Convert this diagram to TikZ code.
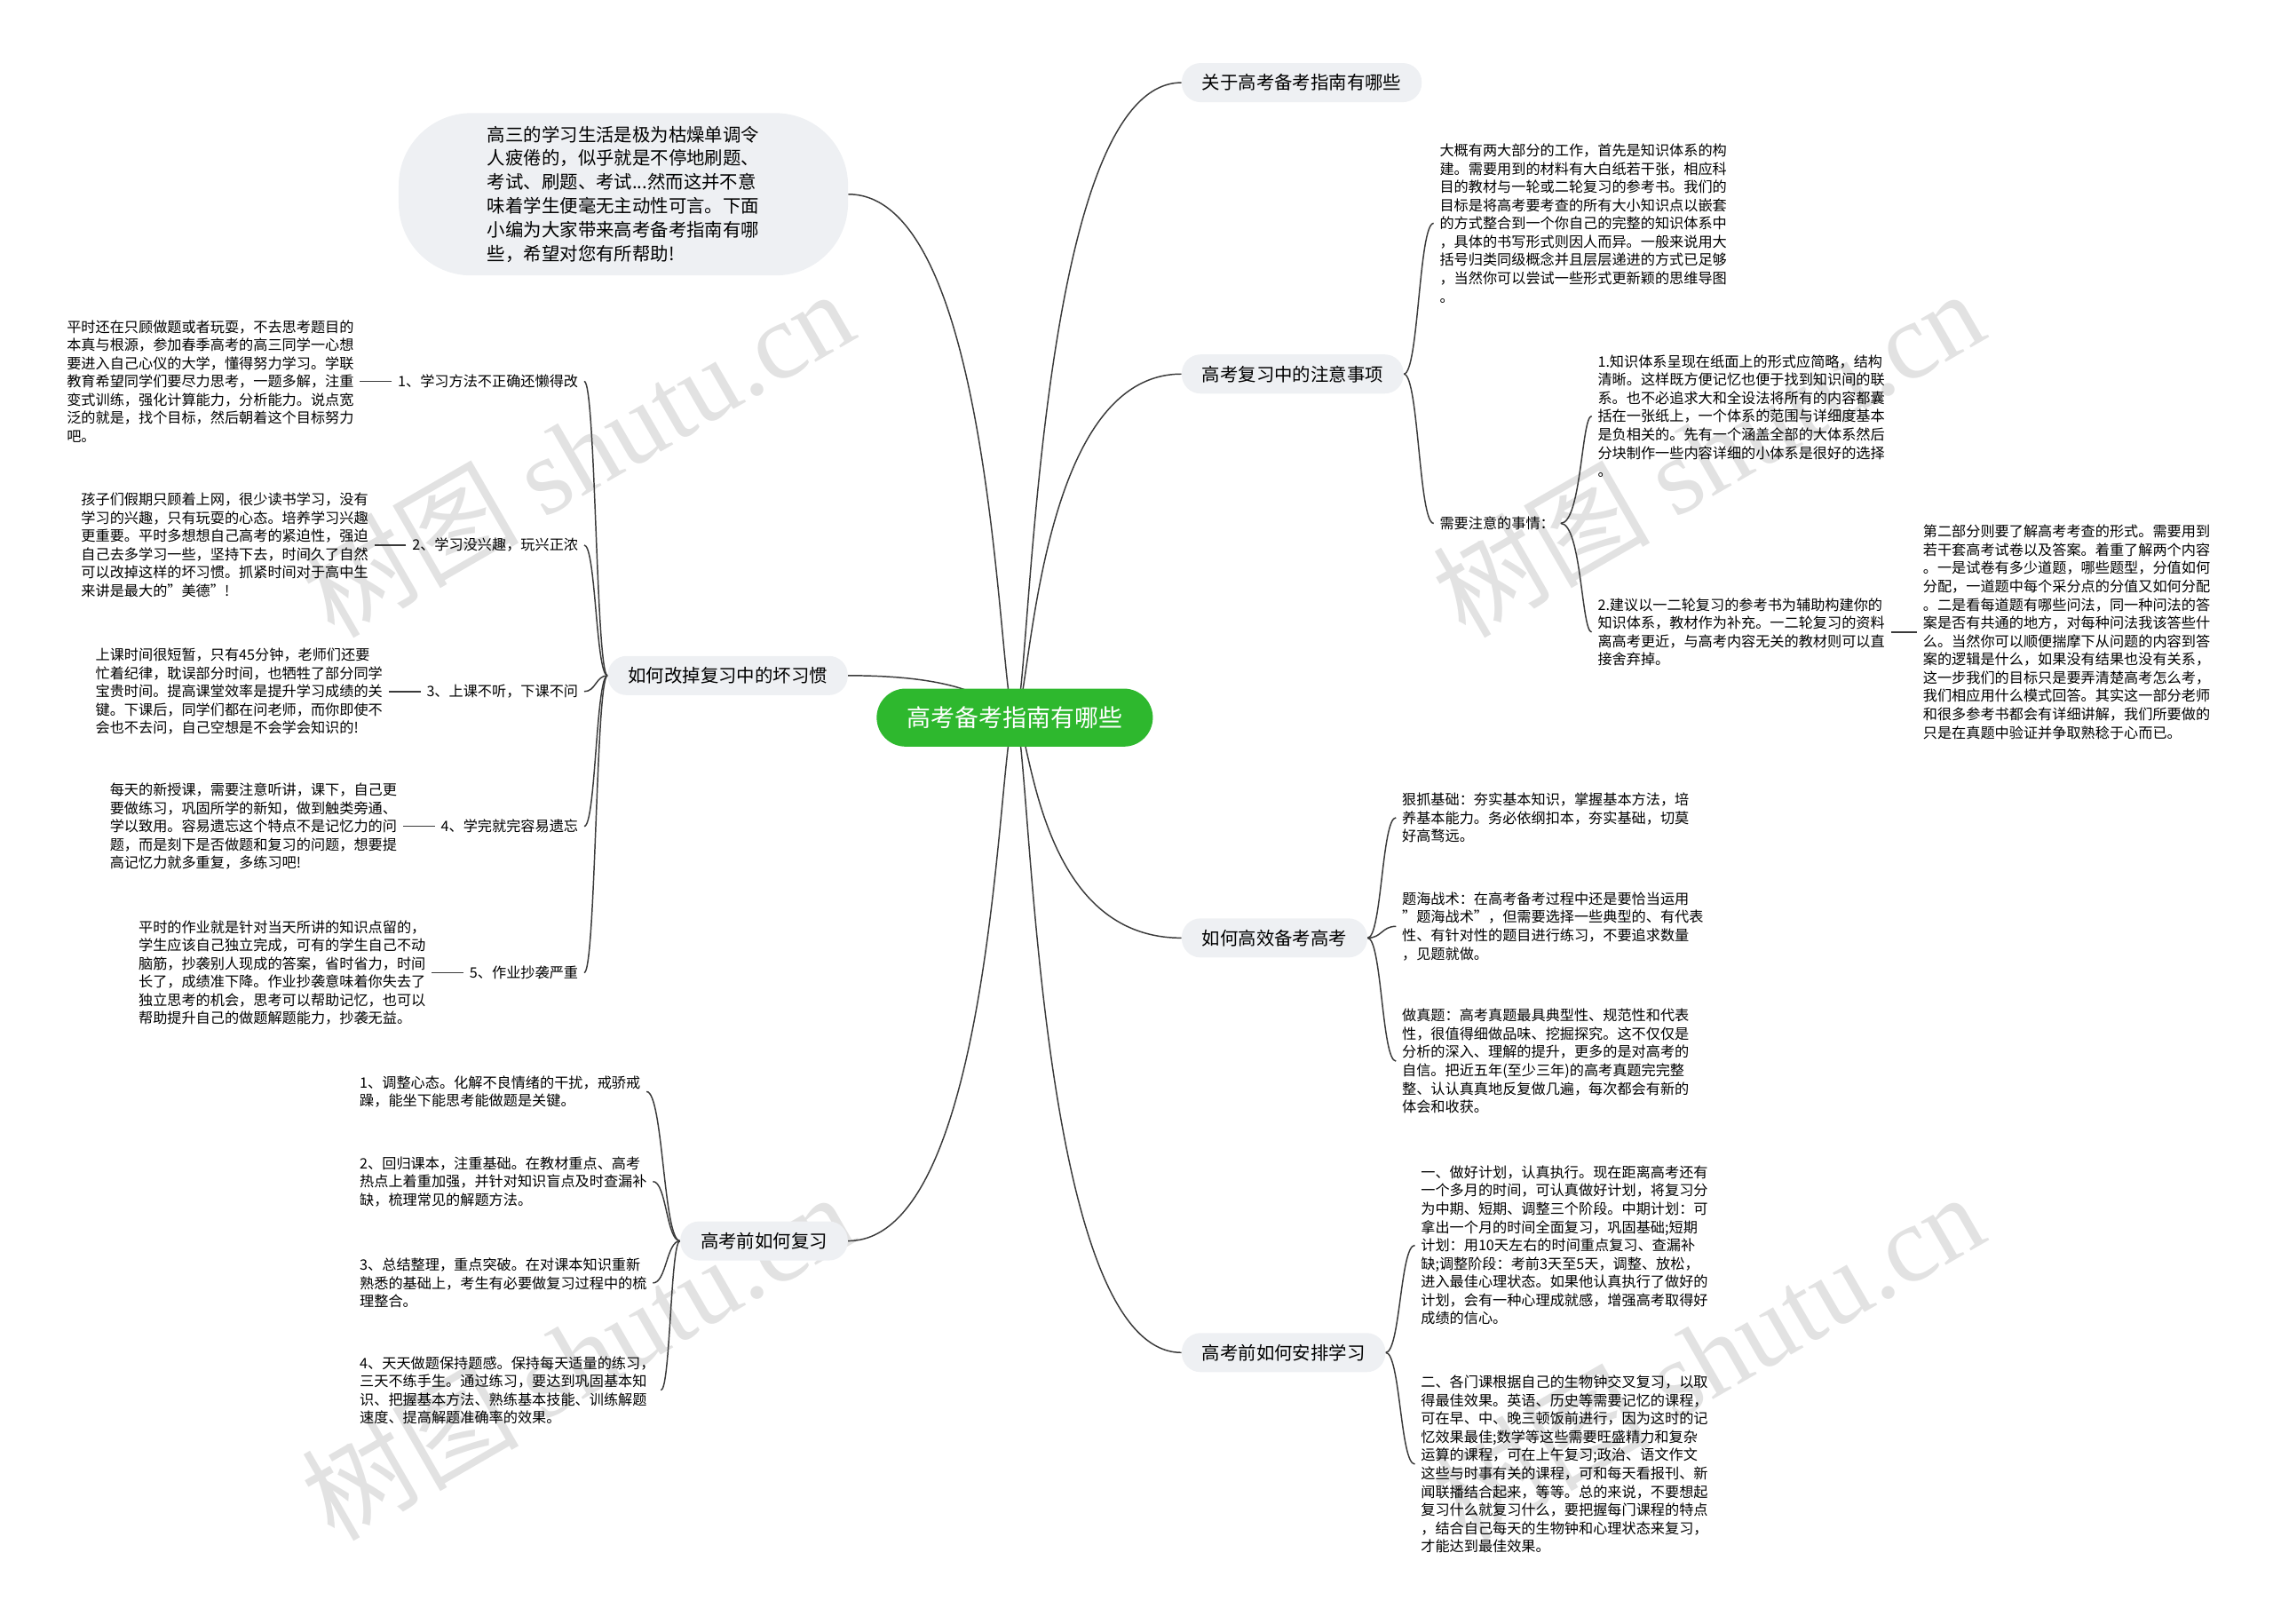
\documentclass[tikz,border=0pt]{standalone}
\usepackage{fontspec}
\setmainfont{Noto Sans CJK SC}
\newfontfamily\wmfont{Liberation Serif}
\usetikzlibrary{positioning, calc}
\definecolor{rootgreen}{HTML}{2EB82E}
\definecolor{topicgray}{HTML}{EEF0F3}
\definecolor{linegray}{HTML}{3A3A3A}
\definecolor{wmgray}{HTML}{E2E2E2}
\pgfdeclarelayer{bg}
\pgfsetlayers{bg,main}

\begin{document}
\begin{tikzpicture}[x=1pt, y=-1pt,
      root/.style={fill=rootgreen, text=white, rounded corners=20pt, minimum height=40pt, inner xsep=21pt, font=\fontsize{16.5}{20}\selectfont},
      topic/.style={fill=topicgray, rounded corners=13pt, minimum height=27pt, inner xsep=14pt, inner ysep=0pt, font=\fontsize{12.5}{15}\selectfont},
      intro/.style={fill=topicgray, rounded corners=50pt, minimum width=310pt, minimum height=112pt, align=left, font=\fontsize{12.5}{16.5}\selectfont},
      txt/.style={inner sep=4pt, align=left, font=\fontsize{9.9}{12.6}\selectfont},
      link/.style={draw=linegray, line width=0.9pt},
      branch/.style={to path={let \p1=(\tikztostart), \p2=(\tikztotarget) in
          .. controls ({\x1+#1*(\x2-\x1)},\y1) and ({\x1+#1*(\x2-\x1)},\y2) .. (\tikztotarget)}},
      branch/.default=0.5,
      wmark/.style={text=wmgray, rotate=30, font=\fontsize{75}{75}\selectfont},
      node distance=22pt
    ]
      \useasboundingbox (0,0) rectangle (1568,1120);

      \node[root] (root) at (700,495) {高考备考指南有哪些};
      \node[intro] (intro) at (430,134) {高三的学习生活是极为枯燥单调令\\人疲倦的，似乎就是不停地刷题、\\考试、刷题、考试...然而这并不意\\味着学生便毫无主动性可言。下面\\小编为大家带来高考备考指南有哪\\些，希望对您有所帮助!};

      \node[topic, anchor=west] (t1) at (815,57) {关于高考备考指南有哪些};
      \node[topic, anchor=west] (t2) at (815,258) {高考复习中的注意事项};
      \node[topic, anchor=west] (t3) at (815,647) {如何高效备考高考};
      \node[topic, anchor=west] (t4) at (815,933) {高考前如何安排学习};
      \node[topic, anchor=east] (t5) at (585,466) {如何改掉复习中的坏习惯};
      \node[topic, anchor=east] (t6) at (585,856) {高考前如何复习};

      % bad habits
      \node[txt, anchor=east] (i1) at (403,263) {1、学习方法不正确还懒得改};
      \node[txt, anchor=east] (i2) at (403,376) {2、学习没兴趣，玩兴正浓};
      \node[txt, anchor=east] (i3) at (403,477) {3、上课不听，下课不问};
      \node[txt, anchor=east] (i4) at (403,570) {4、学完就完容易遗忘};
      \node[txt, anchor=east] (i5) at (403,671) {5、作业抄袭严重};
      \node[txt, left=of i1] (p1) {平时还在只顾做题或者玩耍，不去思考题目的\\本真与根源，参加春季高考的高三同学一心想\\要进入自己心仪的大学，懂得努力学习。学联\\教育希望同学们要尽力思考，一题多解，注重\\变式训练，强化计算能力，分析能力。说点宽\\泛的就是，找个目标，然后朝着这个目标努力\\吧。};
      \node[txt, left=of i2] (p2) {孩子们假期只顾着上网，很少读书学习，没有\\学习的兴趣，只有玩耍的心态。培养学习兴趣\\更重要。平时多想想自己高考的紧迫性，强迫\\自己去多学习一些，坚持下去，时间久了自然\\可以改掉这样的坏习惯。抓紧时间对于高中生\\来讲是最大的"美德"!};
      \node[txt, left=of i3] (p3) {上课时间很短暂，只有45分钟，老师们还要\\忙着纪律，耽误部分时间，也牺牲了部分同学\\宝贵时间。提高课堂效率是提升学习成绩的关\\键。下课后，同学们都在问老师，而你即使不\\会也不去问，自己空想是不会学会知识的!};
      \node[txt, left=of i4] (p4) {每天的新授课，需要注意听讲，课下，自己更\\要做练习，巩固所学的新知，做到触类旁通、\\学以致用。容易遗忘这个特点不是记忆力的问\\题，而是刻下是否做题和复习的问题，想要提\\高记忆力就多重复，多练习吧!};
      \node[txt, left=of i5] (p5) {平时的作业就是针对当天所讲的知识点留的，\\学生应该自己独立完成，可有的学生自己不动\\脑筋，抄袭别人现成的答案，省时省力，时间\\长了，成绩准下降。作业抄袭意味着你失去了\\独立思考的机会，思考可以帮助记忆，也可以\\帮助提升自己的做题解题能力，抄袭无益。};

      % before the exam
      \node[txt, anchor=west] (q1) at (244,753) {1、调整心态。化解不良情绪的干扰，戒骄戒\\躁，能坐下能思考能做题是关键。};
      \node[txt, anchor=west] (q2) at (244,815) {2、回归课本，注重基础。在教材重点、高考\\热点上着重加强，并针对知识盲点及时查漏补\\缺，梳理常见的解题方法。};
      \node[txt, anchor=west] (q3) at (244,885) {3、总结整理，重点突破。在对课本知识重新\\熟悉的基础上，考生有必要做复习过程中的梳\\理整合。};
      \node[txt, anchor=west] (q4) at (244,959) {4、天天做题保持题感。保持每天适量的练习，\\三天不练手生。通过练习，要达到巩固基本知\\识、把握基本方法、熟练基本技能、训练解题\\速度、提高解题准确率的效果。};

      % review notes
      \node[txt, anchor=west] (pd) at (989,154) {大概有两大部分的工作，首先是知识体系的构\\建。需要用到的材料有大白纸若干张，相应科\\目的教材与一轮或二轮复习的参考书。我们的\\目标是将高考要考查的所有大小知识点以嵌套\\的方式整合到一个你自己的完整的知识体系中\\，具体的书写形式则因人而异。一般来说用大\\括号归类同级概念并且层层递进的方式已足够\\，当然你可以尝试一些形式更新颖的思维导图\\。};
      \node[txt, anchor=west] (need) at (989,361) {需要注意的事情：};
      \node[txt, anchor=west] (n1) at (1098,287) {1.知识体系呈现在纸面上的形式应简略，结构\\清晰。这样既方便记忆也便于找到知识间的联\\系。也不必追求大和全设法将所有的内容都囊\\括在一张纸上，一个体系的范围与详细度基本\\是负相关的。先有一个涵盖全部的大体系然后\\分块制作一些内容详细的小体系是很好的选择\\。};
      \node[txt, anchor=west] (n2) at (1098,436) {2.建议以一二轮复习的参考书为辅助构建你的\\知识体系，教材作为补充。一二轮复习的资料\\离高考更近，与高考内容无关的教材则可以直\\接舍弃掉。};
      \node[txt, right=18pt of n2] (far) {第二部分则要了解高考考查的形式。需要用到\\若干套高考试卷以及答案。着重了解两个内容\\。一是试卷有多少道题，哪些题型，分值如何\\分配，一道题中每个采分点的分值又如何分配\\。二是看每道题有哪些问法，同一种问法的答\\案是否有共通的地方，对每种问法我该答些什\\么。当然你可以顺便揣摩下从问题的内容到答\\案的逻辑是什么，如果没有结果也没有关系，\\这一步我们的目标只是要弄清楚高考怎么考，\\我们相应用什么模式回答。其实这一部分老师\\和很多参考书都会有详细讲解，我们所要做的\\只是在真题中验证并争取熟稔于心而已。};

      % efficient preparation
      \node[txt, anchor=west] (r1) at (963,564) {狠抓基础：夯实基本知识，掌握基本方法，培\\养基本能力。务必依纲扣本，夯实基础，切莫\\好高骛远。};
      \node[txt, anchor=west] (r2) at (963,639) {题海战术：在高考备考过程中还是要恰当运用\\"题海战术"，但需要选择一些典型的、有代表\\性、有针对性的题目进行练习，不要追求数量\\，见题就做。};
      \node[txt, anchor=west] (r3) at (963,732) {做真题：高考真题最具典型性、规范性和代表\\性，很值得细做品味、挖掘探究。这不仅仅是\\分析的深入、理解的提升，更多的是对高考的\\自信。把近五年(至少三年)的高考真题完完整\\整、认认真真地反复做几遍，每次都会有新的\\体会和收获。};

      % study schedule
      \node[txt, anchor=west] (s1) at (976,859) {一、做好计划，认真执行。现在距离高考还有\\一个多月的时间，可认真做好计划，将复习分\\为中期、短期、调整三个阶段。中期计划：可\\拿出一个月的时间全面复习，巩固基础;短期\\计划：用10天左右的时间重点复习、查漏补\\缺;调整阶段：考前3天至5天，调整、放松，\\进入最佳心理状态。如果他认真执行了做好的\\计划，会有一种心理成就感，增强高考取得好\\成绩的信心。};
      \node[txt, anchor=west] (s2) at (976,1010) {二、各门课根据自己的生物钟交叉复习，以取\\得最佳效果。英语、历史等需要记忆的课程，\\可在早、中、晚三顿饭前进行，因为这时的记\\忆效果最佳;数学等这些需要旺盛精力和复杂\\运算的课程，可在上午复习;政治、语文作文\\这些与时事有关的课程，可和每天看报刊、新\\闻联播结合起来，等等。总的来说，不要想起\\复习什么就复习什么，要把握每门课程的特点\\，结合自己每天的生物钟和心理状态来复习，\\才能达到最佳效果。};

      \begin{pgfonlayer}{bg}
        \node[wmark] (wm1) at (398,312) {树图 {\wmfont shutu.cn}};
        \node[wmark] (wm2) at (1178,312) {树图 {\wmfont shutu.cn}};
        \node[wmark] (wm3) at (398,935) {树图 {\wmfont shutu.cn}};
        \node[wmark] (wm4) at (1178,935) {树图 {\wmfont shutu.cn}};

        \draw[link] (root.center) to[branch=0.1] (intro.east);
        \draw[link] (root.center) to[branch=0.1] (t1.west);
        \draw[link] (root.center) to[branch=0.1] (t2.west);
        \draw[link] (root.center) to[branch=0.1] (t3.west);
        \draw[link] (root.center) to[branch=0.1] (t4.west);
        \draw[link] (root.center) to[branch=0.1] (t5.east);
        \draw[link] (root.center) to[branch=0.1] (t6.east);

        \foreach \k in {1,...,5} {
          \draw[link] (t5.west) to[branch] (i\k.east);
          \draw[link] (i\k.west) -- (p\k.east);
        }
        \foreach \k in {1,...,4}
          \draw[link] (t6.west) to[branch] (q\k.east);
        \draw[link] (t2.east) to[branch] (pd.west);
        \draw[link] (t2.east) to[branch] (need.west);
        \draw[link] (need.east) to[branch=0.67] (n1.west);
        \draw[link] (need.east) to[branch=0.67] (n2.west);
        \draw[link] (n2.east) -- (far.west);
        \foreach \k in {1,2,3}
          \draw[link] (t3.east) to[branch] (r\k.west);
        \draw[link] (t4.east) to[branch] (s1.west);
        \draw[link] (t4.east) to[branch] (s2.west);
      \end{pgfonlayer}
    \end{tikzpicture}
\end{document}
